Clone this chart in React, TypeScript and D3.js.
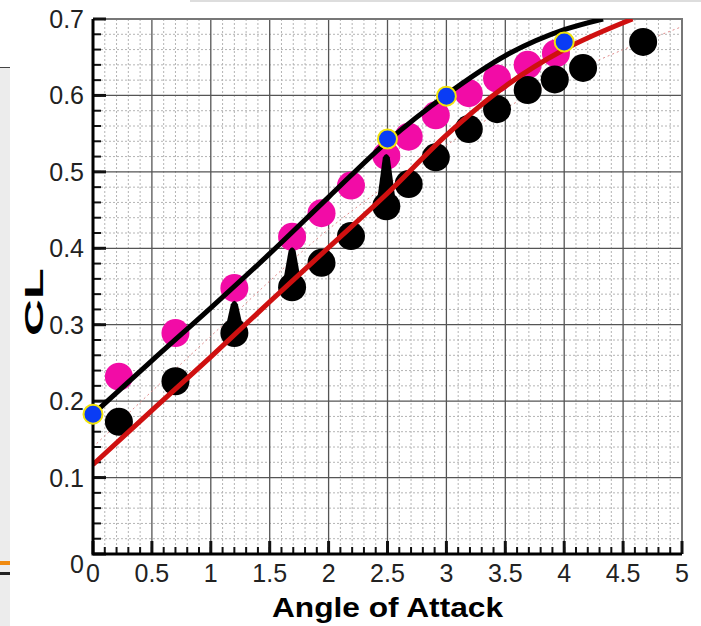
import React, { useEffect, useRef } from 'react';
import * as d3 from 'd3';

const W = 701, H = 626;
const plot = { left: 93, right: 682, top: 19, bottom: 554 };

// measured lift (black) and corrected lift (magenta)
const alphaRaw = [0.22, 0.7, 1.2, 1.69, 1.94, 2.19, 2.49, 2.68, 2.91, 3.19, 3.43, 3.69, 3.92, 4.16, 4.67];
const clRaw = [0.173, 0.226, 0.289, 0.349, 0.381, 0.416, 0.455, 0.484, 0.519, 0.556, 0.582, 0.607, 0.621, 0.636, 0.670];
const alphaCorr = [0.22, 0.7, 1.2, 1.69, 1.94, 2.19, 2.49, 2.68, 2.91, 3.19, 3.43, 3.69, 3.93];
const clCorr = [0.232, 0.289, 0.348, 0.415, 0.446, 0.482, 0.521, 0.546, 0.574, 0.603, 0.622, 0.640, 0.655];

// blue markers
const alphaBlue = [0, 2.5, 3, 4];
const clBlue = [0.183, 0.543, 0.599, 0.670];

// arrows (raw -> corrected)
const alphaArrow = [1.2, 1.69, 2.49];
const clArrowFrom = [0.289, 0.349, 0.455];
const clArrowTo = [0.332, 0.402, 0.524];

// curves
const blackX = [0, 0.5, 1, 1.5, 2, 2.5, 3, 3.5, 4, 4.33];
const blackY = [0.183, 0.253, 0.322, 0.393, 0.467, 0.540, 0.601, 0.652, 0.686, 0.700];
const redX = [0, 0.5, 1, 1.5, 2, 2.5, 3, 3.5, 4, 4.58];
const redY = [0.117, 0.188, 0.258, 0.330, 0.401, 0.472, 0.548, 0.612, 0.660, 0.700];
const guideX = [0, 1, 2, 3, 4, 5];
const guideY = [0.14, 0.285, 0.425, 0.535, 0.625, 0.69];

const xTicks = [0, 0.5, 1, 1.5, 2, 2.5, 3, 3.5, 4, 4.5, 5];
const yTicks = [0, 0.1, 0.2, 0.3, 0.4, 0.5, 0.6, 0.7];

const font = '"Liberation Sans", Arial, sans-serif';

const App = () => {
  const ref = useRef<SVGSVGElement>(null);

  useEffect(() => {
    const svg = d3.select(ref.current);
    svg.selectAll('*').remove();

    const x = d3.scaleLinear().domain([0, 5]).range([plot.left, plot.right]);
    const y = d3.scaleLinear().domain([0, 0.7]).range([plot.bottom, plot.top]);

    // screenshot leftovers on the left
    svg.append('rect').attr('x', 0).attr('y', 67).attr('width', 10).attr('height', H - 67).attr('fill', '#ececec');
    svg.append('line').attr('x1', 0).attr('x2', 10).attr('y1', 67.5).attr('y2', 67.5).attr('stroke', '#444').attr('stroke-width', 1);
    svg.append('rect').attr('x', 0).attr('y', 561).attr('width', 10).attr('height', 4).attr('fill', '#f08a10');
    svg.append('rect').attr('x', 0).attr('y', 572).attr('width', 10).attr('height', 3).attr('fill', '#222');
    svg.append('line').attr('x1', 190).attr('x2', W).attr('y1', 1).attr('y2', 1).attr('stroke', '#ddd').attr('stroke-width', 2);

    const defs = svg.append('defs');
    defs.append('clipPath').attr('id', 'plotclip').append('rect')
      .attr('x', plot.left).attr('y', plot.top)
      .attr('width', plot.right - plot.left).attr('height', plot.bottom - plot.top);

    // minor dotted grid
    const grid = svg.append('g');
    grid.selectAll('line.mx').data(d3.range(1, 50).map(i => i / 10).filter(v => Math.abs(v * 2 - Math.round(v * 2)) > 1e-6))
      .join('line')
      .attr('x1', d => x(d)).attr('x2', d => x(d)).attr('y1', plot.top).attr('y2', plot.bottom)
      .attr('stroke', '#b4b4b4').attr('stroke-width', 1).attr('stroke-dasharray', '2,2');
    grid.selectAll('line.my').data(d3.range(1, 35).map(i => i / 50).filter(v => Math.abs(v * 10 - Math.round(v * 10)) > 1e-6))
      .join('line')
      .attr('x1', plot.left).attr('x2', plot.right).attr('y1', d => y(d)).attr('y2', d => y(d))
      .attr('stroke', '#b4b4b4').attr('stroke-width', 1).attr('stroke-dasharray', '2,2');

    // major grid
    svg.append('g').selectAll('line').data(xTicks.slice(1, -1)).join('line')
      .attr('x1', d => x(d)).attr('x2', d => x(d)).attr('y1', plot.top).attr('y2', plot.bottom)
      .attr('stroke', '#555').attr('stroke-width', 1.3);
    svg.append('g').selectAll('line').data(yTicks.slice(1, -1)).join('line')
      .attr('x1', plot.left).attr('x2', plot.right).attr('y1', d => y(d)).attr('y2', d => y(d))
      .attr('stroke', '#555').attr('stroke-width', 1.3);

    // frame top/right
    svg.append('path')
      .attr('d', `M${plot.left},${plot.top}H${plot.right}V${plot.bottom}`)
      .attr('fill', 'none').attr('stroke', '#777').attr('stroke-width', 2);

    // ticks
    const tk = svg.append('g').attr('stroke', '#111');
    tk.selectAll('line.ymin').data(d3.range(1, 35).map(i => i / 50)).join('line')
      .attr('x1', plot.left).attr('x2', plot.left + 8).attr('y1', d => y(d)).attr('y2', d => y(d)).attr('stroke-width', 2);
    tk.selectAll('line.ymaj').data(yTicks).join('line')
      .attr('x1', plot.left).attr('x2', plot.left + 13).attr('y1', d => y(d)).attr('y2', d => y(d)).attr('stroke-width', 3);
    tk.selectAll('line.xmin').data(d3.range(1, 50).map(i => i / 10)).join('line')
      .attr('x1', d => x(d)).attr('x2', d => x(d)).attr('y1', plot.bottom).attr('y2', plot.bottom - 7).attr('stroke-width', 2);
    tk.selectAll('line.xmaj').data(xTicks).join('line')
      .attr('x1', d => x(d)).attr('x2', d => x(d)).attr('y1', plot.bottom).attr('y2', plot.bottom - 13).attr('stroke-width', 3);

    const area = svg.append('g').attr('clip-path', 'url(#plotclip)');

    // faint dashed guide
    const line = d3.line<[number, number]>().x(d => x(d[0])).y(d => y(d[1])).curve(d3.curveMonotoneX);
    area.append('path')
      .attr('d', line(guideX.map((v, i) => [v, guideY[i]]))!)
      .attr('fill', 'none').attr('stroke', '#e08a8a').attr('stroke-width', 1).attr('stroke-dasharray', '2,3');

    area.append('g').selectAll('circle').data(alphaCorr).join('circle')
      .attr('cx', d => x(d)).attr('cy', (d, i) => y(clCorr[i])).attr('r', 14).attr('fill', '#f20ca6');
    area.append('g').selectAll('circle').data(alphaRaw).join('circle')
      .attr('cx', d => x(d)).attr('cy', (d, i) => y(clRaw[i])).attr('r', 14).attr('fill', '#000');

    // arrows
    area.append('g').selectAll('path').data(alphaArrow).join('path')
      .attr('d', (d, i) => {
        const cx = x(d), y0 = y(clArrowFrom[i]), y1 = y(clArrowTo[i]);
        return `M${cx - 10},${y0} L${cx - 3.5},${y1 + 4} Q${cx},${y1 - 3} ${cx + 3.5},${y1 + 4} L${cx + 10},${y0} Z`;
      })
      .attr('fill', '#000');

    area.append('path')
      .attr('d', line(blackX.map((v, i) => [v, blackY[i]]))!)
      .attr('fill', 'none').attr('stroke', '#000').attr('stroke-width', 5);
    area.append('path')
      .attr('d', line(redX.map((v, i) => [v, redY[i]]))!)
      .attr('fill', 'none').attr('stroke', '#cf1010').attr('stroke-width', 5);

    // axes lines left/bottom
    svg.append('path')
      .attr('d', `M${plot.left},${plot.top}V${plot.bottom}H${plot.right}`)
      .attr('fill', 'none').attr('stroke', '#000').attr('stroke-width', 3);

    svg.append('g').selectAll('circle').data(alphaBlue).join('circle')
      .attr('cx', d => x(d)).attr('cy', (d, i) => y(clBlue[i])).attr('r', 9.5)
      .attr('fill', '#0a3cf5').attr('stroke', '#f2e40a').attr('stroke-width', 2);

    // tick labels
    svg.append('g').selectAll('text').data(yTicks).join('text')
      .attr('x', plot.left - 9).attr('y', d => y(d) + (d === 0 ? 10 : 0))
      .attr('text-anchor', 'end').attr('dominant-baseline', 'central')
      .style('font-family', font).style('font-size', '25px').attr('fill', '#222')
      .text(d => d3.format('~g')(d));
    svg.append('g').selectAll('text').data(xTicks).join('text')
      .attr('x', d => x(d)).attr('y', plot.bottom + 28)
      .attr('text-anchor', 'middle')
      .style('font-family', font).style('font-size', '25px').attr('fill', '#222')
      .text(d => d3.format('~g')(d));

    svg.append('text')
      .attr('x', 272).attr('y', 617)
      .attr('textLength', 231).attr('lengthAdjust', 'spacingAndGlyphs')
      .style('font-family', font).style('font-size', '28px').style('font-weight', 'bold')
      .text('Angle of Attack');
    svg.append('text')
      .attr('transform', `translate(43,336) rotate(-90)`)
      .attr('textLength', 68).attr('lengthAdjust', 'spacingAndGlyphs')
      .style('font-family', font).style('font-size', '26px').style('font-weight', 'bold')
      .text('CL');
  }, []);

  return (
    <svg ref={ref} width={W} height={H} style={{ position: 'absolute', left: 0, top: 0, background: '#fff' }}></svg>
  );
};

export default App;
